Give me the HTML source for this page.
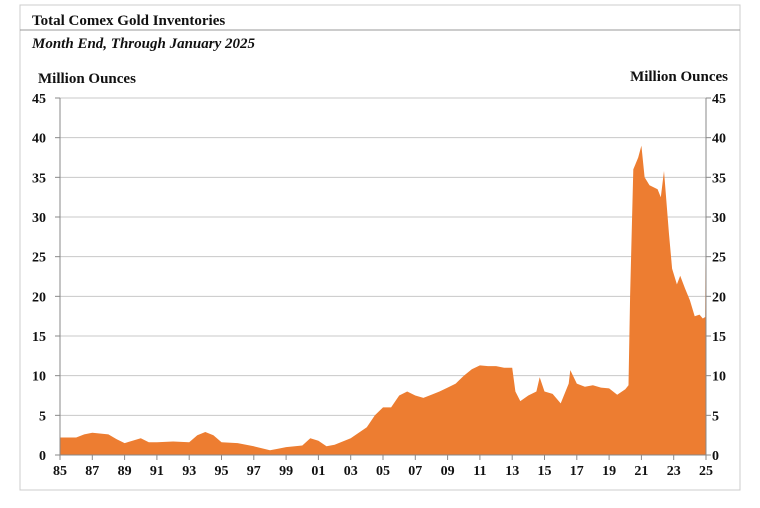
<!DOCTYPE html>
<html><head><meta charset="utf-8">
<style>
body{margin:0;background:#fff;font-family:"Liberation Serif",serif;}
svg text{font-family:"Liberation Serif",serif;font-weight:bold;fill:#111;}
</style></head>
<body>
<svg width="760" height="503" viewBox="0 0 760 503">
<rect x="20" y="5" width="720" height="485" fill="none" stroke="#ccc"/>
<line x1="20" y1="30" x2="740" y2="30" stroke="#999"/>
<text x="32" y="25" font-size="15">Total Comex Gold Inventories</text>
<text x="32" y="48" font-size="15" font-style="italic">Month End, Through January 2025</text>
<text x="38" y="83" font-size="15">Million Ounces</text>
<text x="728" y="81" font-size="15" text-anchor="end">Million Ounces</text>
<g id="grid"></g>
<path id="area" fill="#ED7D31"/>
<g id="axes"></g>
</svg>
<script>
const yTicks=[0,5,10,15,20,25,30,35,40,45];
const xTickLabels=["85","87","89","91","93","95","97","99","01","03","05","07","09","11","13","15","17","19","21","23","25"];
const years=[1985,1986,1986.5,1987,1988,1988.5,1989,1990,1990.5,1991,1992,1993,1993.5,1994,1994.5,1995,1996,1997,1998,1998.5,1999,2000,2000.5,2001,2001.5,2002,2003,2004,2004.5,2005,2005.5,2006,2006.5,2007,2007.5,2008,2008.5,2009,2009.5,2010,2010.5,2011,2011.5,2012,2012.5,2013,2013.2,2013.5,2014,2014.5,2014.7,2015,2015.5,2016,2016.5,2016.6,2017,2017.5,2018,2018.5,2019,2019.5,2020,2020.2,2020.3,2020.5,2020.8,2021,2021.2,2021.5,2022,2022.2,2022.4,2022.7,2022.9,2023.2,2023.4,2023.7,2024,2024.3,2024.6,2024.8,2024.95,2025];
const values=[2.2,2.2,2.6,2.8,2.6,2.0,1.5,2.1,1.6,1.6,1.7,1.6,2.5,2.9,2.5,1.6,1.5,1.1,0.6,0.8,1.0,1.2,2.1,1.8,1.1,1.3,2.1,3.5,5,6,6.0,7.5,8,7.5,7.2,7.6,8.0,8.5,9,10,10.8,11.3,11.2,11.2,11,11,8,6.8,7.5,8,9.8,8,7.7,6.5,9,10.7,9,8.6,8.8,8.5,8.4,7.6,8.3,8.8,20,36,37.5,39,35,34,33.5,32.5,35.8,28,23.5,21.5,22.6,21,19.5,17.5,17.7,17.2,17.4,38.5];
const X0=60,X1=706,Y0=455,Y1=98;
const xs=v=>X0+(v-1985)/40*(X1-X0);
const ys=v=>Y0-v/45*(Y0-Y1);
const NS="http://www.w3.org/2000/svg";
const grid=document.getElementById('grid'),axes=document.getElementById('axes');
function mk(tag,attrs,parent){const e=document.createElementNS(NS,tag);for(const k in attrs)e.setAttribute(k,attrs[k]);parent.appendChild(e);return e;}
yTicks.forEach(t=>{
  const y=ys(t);
  if(t>0){const g=mk('line',{x1:X0,x2:X1,y1:y,y2:y,stroke:'#c8c8c8'},grid);
  
  }
  const l=mk('text',{x:X0-14,y:y+5,'font-size':14,'text-anchor':'end'},axes);l.textContent=t;
  
  
  const r=mk('text',{x:X1+6,y:y+5,'font-size':14},axes);r.textContent=t;
  
  
  mk('line',{x1:X0-5,x2:X0,y1:y,y2:y,stroke:'#888'},axes);
  mk('line',{x1:X1,x2:X1+5,y1:y,y2:y,stroke:'#888'},axes);
});
let d='M'+xs(years[0])+','+ys(0);
years.forEach((yr,i)=>{d+=' L'+xs(yr).toFixed(1)+','+ys(values[i]).toFixed(1);});
d+=' L'+xs(years[years.length-1])+','+ys(0)+' Z';
document.getElementById('area').setAttribute('d',d);
mk('line',{x1:X0,x2:X0,y1:Y1,y2:Y0,stroke:'#888'},axes);
mk('line',{x1:X1,x2:X1,y1:Y1,y2:Y0,stroke:'#888'},axes);
mk('line',{x1:X0,x2:X1,y1:Y0,y2:Y0,stroke:'#888'},axes);
xTickLabels.forEach((lab,i)=>{
  const x=xs(1985+i*2);
  mk('line',{x1:x,x2:x,y1:Y0,y2:Y0+5,stroke:'#888'},axes);
  const t=mk('text',{x:x,y:Y0+20,'font-size':14,'text-anchor':'middle'},axes);t.textContent=lab;
  
  
});
</script>
</body></html>
